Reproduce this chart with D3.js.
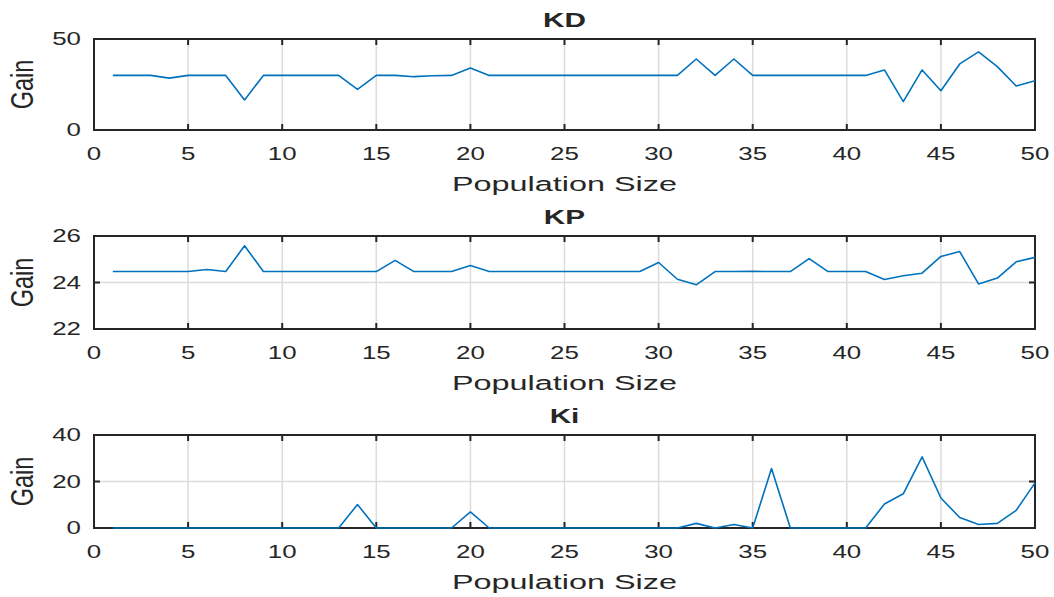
<!DOCTYPE html>
<html>
<head>
<meta charset="utf-8">
<script src="https://cdn.jsdelivr.net/npm/d3@7"></script>
<style>
  html, body { margin: 0; padding: 0; background: #fff; }
  svg { display: block; }
  text { font-family: "Liberation Sans", Arial, Helvetica, sans-serif; fill: #262626; }
</style>
</head>
<body>
<svg id="chart" width="1054" height="597"></svg>
<script>
// ---- data ----
const populationSize = d3.range(1, 51);
const kdValues = [30,30,30,28.5,30,30,30,16.5,30,30, 30,30,30,22.3,30,30,29.3,29.8,30,34,
                  30,30,30,30,30,30,30,30,30,30, 30,39,30,39,30,30,30,30,30,30,
                  30,33,15.6,33,21.6,36.3,42.9,34.8,24.2,27.1];
const kpValues = [24.47,24.47,24.47,24.47,24.47,24.56,24.47,25.58,24.47,24.47,
                  24.47,24.47,24.47,24.47,24.47,24.95,24.47,24.47,24.47,24.73,
                  24.47,24.47,24.47,24.47,24.47,24.47,24.47,24.47,24.47,24.86,
                  24.14,23.9,24.47,24.47,24.48,24.47,24.47,25.03,24.47,24.47,
                  24.47,24.13,24.29,24.4,25.12,25.33,23.94,24.19,24.89,25.08];
const kiValues = [0,0,0,0,0,0,0,0,0,0, 0,0,0,10.1,0,0,0,0,0,6.9,
                  0,0,0,0,0,0,0,0,0,0, 0,2,0,1.5,0,25.6,0,0,0,0,
                  0,10.3,14.7,30.6,12.9,4.5,1.5,2,7.6,19.4];
const xTickValues = [0,5,10,15,20,25,30,35,40,45,50];
const panelTitles = ["KD", "KP", "Ki"];
const yDomains = [[0,50],[22,26],[0,40]];
const yTickValues = [[0,50],[22,24,26],[0,20,40]];
const xLabel = "Population Size";
const yLabel = "Gain";

// ---- layout ----
const svg = d3.select("#chart");
const left = 94, right = 1035;
const panels = [
  {top: 39, bottom: 130, values: kdValues},
  {top: 236, bottom: 329, values: kpValues},
  {top: 435, bottom: 528, values: kiValues}
];
const SX = 1.4; // horizontal stretch of the reference text

function stext(g, x, y, str, size, opts = {}) {
  const sx = opts.sx || SX;
  const t = g.append("g")
    .attr("transform", `translate(${x},${y}) scale(${sx},1)` + (opts.rotate ? ` rotate(${opts.rotate})` : ""))
    .append("text")
    .attr("text-anchor", opts.anchor || "middle")
    .attr("font-size", size)
    .attr("font-weight", opts.bold ? "bold" : "normal")
    .text(str);
  if (opts.dy) t.attr("dy", opts.dy);
  return t;
}

const x = d3.scaleLinear().domain([0, 50]).range([left, right]);

panels.forEach((p, i) => {
  const g = svg.append("g");
  const y = d3.scaleLinear().domain(yDomains[i]).range([p.bottom, p.top]);

  // grid
  g.selectAll(".vgrid").data(xTickValues.slice(1, -1)).enter().append("line")
    .attr("x1", d => x(d)).attr("x2", d => x(d))
    .attr("y1", p.top).attr("y2", p.bottom)
    .attr("stroke", "#dcdcdc").attr("stroke-width", 1.5);
  g.selectAll(".hgrid").data(yTickValues[i].slice(1, -1)).enter().append("line")
    .attr("x1", left).attr("x2", right)
    .attr("y1", d => y(d)).attr("y2", d => y(d))
    .attr("stroke", "#dcdcdc").attr("stroke-width", 1.5);

  // ticks (inside, top & bottom, left & right)
  const tl = 6;
  xTickValues.forEach(v => {
    g.append("line").attr("x1", x(v)).attr("x2", x(v)).attr("y1", p.bottom).attr("y2", p.bottom - tl)
      .attr("stroke", "#262626").attr("stroke-width", 2);
    g.append("line").attr("x1", x(v)).attr("x2", x(v)).attr("y1", p.top).attr("y2", p.top + tl)
      .attr("stroke", "#262626").attr("stroke-width", 2);
  });
  yTickValues[i].forEach(v => {
    g.append("line").attr("x1", left).attr("x2", left + tl).attr("y1", y(v)).attr("y2", y(v))
      .attr("stroke", "#262626").attr("stroke-width", 2);
    g.append("line").attr("x1", right).attr("x2", right - tl).attr("y1", y(v)).attr("y2", y(v))
      .attr("stroke", "#262626").attr("stroke-width", 2);
  });

  // box
  g.append("rect").attr("x", left).attr("y", p.top)
    .attr("width", right - left).attr("height", p.bottom - p.top)
    .attr("fill", "none").attr("stroke", "#262626").attr("stroke-width", 2);

  // data line (on top of the box, as in the reference)
  const line = d3.line().x((d, j) => x(populationSize[j])).y(d => y(d));
  g.append("path").datum(p.values)
    .attr("d", line)
    .attr("fill", "none")
    .attr("stroke", "#0072BD")
    .attr("stroke-width", 1.6)
    .attr("stroke-linejoin", "round");

  // x tick labels
  xTickValues.forEach(v => stext(g, x(v), p.bottom + 30, String(v), 18.5));
  // y tick labels
  yTickValues[i].forEach(v => stext(g, 81, y(v), String(v), 18.5, {anchor: "end", dy: "0.35em"}));

  // x label
  stext(g, (left + right) / 2, p.bottom + 61, xLabel, 20, {sx: 1.62});
  // y label
  stext(g, 33, (p.top + p.bottom) / 2, yLabel, 23.5, {rotate: -90, sx: 1.35});
  // title
  stext(g, (left + right) / 2, p.top - 12, panelTitles[i], 20.5, {bold: true, sx: 1.45});
});
</script>
</body>
</html>
